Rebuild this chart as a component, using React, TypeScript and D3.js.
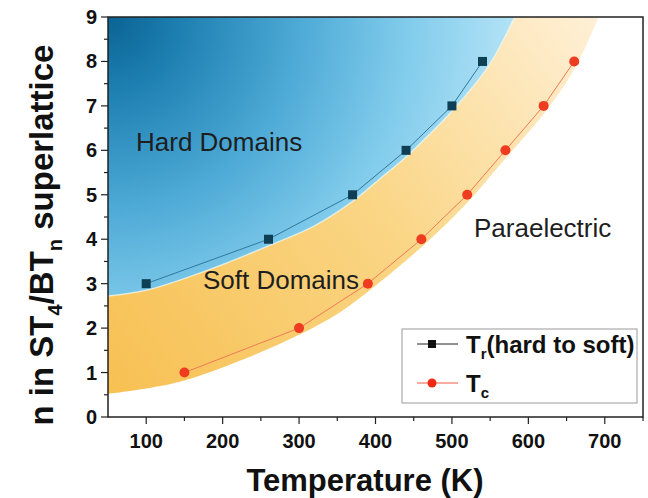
import React, { useEffect, useRef } from "react";
import * as d3 from "d3";

// transition points
const hardToSoftT = [100, 260, 370, 440, 500, 540];
const hardToSoftN = [3, 4, 5, 6, 7, 8];
const curieT = [150, 300, 390, 460, 520, 570, 620, 660];
const curieN = [1, 2, 3, 4, 5, 6, 7, 8];

// edges of the shaded phase regions
const blueEdgeT = [50, 100, 180, 260, 320, 370, 405, 440, 470, 500, 548, 582];
const blueEdgeN = [2.72, 2.85, 3.3, 3.85, 4.3, 4.85, 5.35, 5.85, 6.35, 6.88, 7.9, 9];
const orangeEdgeT = [50, 100, 150, 225, 300, 350, 390, 460, 520, 570, 620, 660, 692];
const orangeEdgeN = [0.52, 0.64, 0.82, 1.28, 1.85, 2.32, 2.82, 3.82, 4.82, 5.82, 6.82, 7.82, 9];

const xTicks = [100, 200, 300, 400, 500, 600, 700];
const xMinor = [150, 250, 350, 450, 550, 650, 750];
const yTicks = [0, 1, 2, 3, 4, 5, 6, 7, 8, 9];
const yMinor = [0.5, 1.5, 2.5, 3.5, 4.5, 5.5, 6.5, 7.5, 8.5];

const FONT = "'Liberation Sans', Arial, sans-serif";

const App = () => {
  const ref = useRef<SVGSVGElement>(null);

  useEffect(() => {
    const svg = d3.select(ref.current);
    svg.selectAll("*").remove();

    const left = 108, right = 643, top = 17, bottom = 417;
    const x = d3.scaleLinear().domain([50, 750]).range([left, right]);
    const y = d3.scaleLinear().domain([0, 9]).range([bottom, top]);

    const defs = svg.append("defs");
    defs.append("clipPath").attr("id", "plotClip")
      .append("rect").attr("x", left).attr("y", top).attr("width", right - left).attr("height", bottom - top);

    const blueGrad = defs.append("radialGradient").attr("id", "blueGrad")
      .attr("gradientUnits", "userSpaceOnUse").attr("cx", left).attr("cy", top).attr("r", 480);
    [[0, "#0a6393"], [0.15, "#1d7fb1"], [0.4, "#4eaad6"], [0.62, "#80cbeb"], [0.82, "#ade0f5"], [1, "#d3f1fb"]]
      .forEach(([o, c]) => blueGrad.append("stop").attr("offset", o).attr("stop-color", c));

    const orangeGrad = defs.append("linearGradient").attr("id", "orangeGrad")
      .attr("gradientUnits", "userSpaceOnUse")
      .attr("x1", left).attr("y1", bottom).attr("x2", 640).attr("y2", top);
    [[0, "#f7bf50"], [0.5, "#fad584"], [1, "#fff3e0"]]
      .forEach(([o, c]) => orangeGrad.append("stop").attr("offset", o).attr("stop-color", c));

    const edge = d3.line<number[]>().x((d) => x(d[0])).y((d) => y(d[1])).curve(d3.curveCatmullRom);
    const bluePts = blueEdgeT.map((t, i) => [t, blueEdgeN[i]]);
    const orangePts = orangeEdgeT.map((t, i) => [t, orangeEdgeN[i]]);

    const plot = svg.append("g").attr("clip-path", "url(#plotClip)");

    plot.append("path")
      .attr("d", `M${x(50)},${y(9)}L` + edge(bluePts.slice().reverse())!.slice(1) + "Z")
      .attr("fill", "url(#blueGrad)");

    plot.append("path")
      .attr("d", edge(bluePts)! + "L" + edge(orangePts.slice().reverse())!.slice(1) + "Z")
      .attr("fill", "url(#orangeGrad)");

    plot.append("path").attr("d", edge(bluePts)!)
      .attr("fill", "none").attr("stroke", "#eef6ee").attr("stroke-width", 1.5).attr("opacity", 0.7);

    // series lines and markers
    const trPts = hardToSoftT.map((t, i) => [t, hardToSoftN[i]]);
    const tcPts = curieT.map((t, i) => [t, curieN[i]]);
    const straight = d3.line<number[]>().x((d) => x(d[0])).y((d) => y(d[1]));

    plot.append("path").attr("d", straight(trPts)!).attr("fill", "none")
      .attr("stroke", "#2f79a0").attr("stroke-width", 1);
    plot.append("path").attr("d", straight(tcPts)!).attr("fill", "none")
      .attr("stroke", "#f07a58").attr("stroke-width", 1);

    plot.selectAll("rect.tr").data(trPts).enter().append("rect")
      .attr("x", (d) => x(d[0]) - 4.5).attr("y", (d) => y(d[1]) - 4.5)
      .attr("width", 9).attr("height", 9).attr("fill", "#0f3f55");
    plot.selectAll("circle.tc").data(tcPts).enter().append("circle")
      .attr("cx", (d) => x(d[0])).attr("cy", (d) => y(d[1])).attr("r", 5)
      .attr("fill", "#ef3b1f");

    // region labels
    const label = (tx: string, px: number, py: number) =>
      svg.append("text").attr("x", px).attr("y", py).attr("font-family", FONT)
        .attr("font-size", 26).attr("fill", "#1e1e1e").text(tx);
    label("Hard Domains", 136, 151);
    label("Soft Domains", 203, 289);
    label("Paraelectric", 474, 237);

    // frame and ticks
    svg.append("rect").attr("x", left).attr("y", top).attr("width", right - left).attr("height", bottom - top)
      .attr("fill", "none").attr("stroke", "#222").attr("stroke-width", 1.5);

    const axes = svg.append("g").attr("stroke", "#222").attr("stroke-width", 1.2);
    xTicks.forEach((t) => axes.append("line").attr("x1", x(t)).attr("x2", x(t)).attr("y1", bottom).attr("y2", bottom + 7));
    xMinor.forEach((t) => axes.append("line").attr("x1", x(t)).attr("x2", x(t)).attr("y1", bottom).attr("y2", bottom + 4));
    yTicks.forEach((t) => axes.append("line").attr("x1", left).attr("x2", left - 7).attr("y1", y(t)).attr("y2", y(t)));
    yMinor.forEach((t) => axes.append("line").attr("x1", left).attr("x2", left - 4).attr("y1", y(t)).attr("y2", y(t)));

    svg.selectAll("text.xt").data(xTicks).enter().append("text")
      .attr("x", (d) => x(d)).attr("y", bottom + 31).attr("text-anchor", "middle")
      .attr("font-family", FONT).attr("font-weight", "bold").attr("font-size", 20).attr("fill", "#111")
      .text((d) => d);
    svg.selectAll("text.yt").data(yTicks).enter().append("text")
      .attr("x", left - 11).attr("y", (d) => y(d) + 7).attr("text-anchor", "end")
      .attr("font-family", FONT).attr("font-weight", "bold").attr("font-size", 20).attr("fill", "#111")
      .text((d) => d);

    // axis titles
    svg.append("text").attr("x", 365).attr("y", 491).attr("text-anchor", "middle")
      .attr("font-family", FONT).attr("font-weight", "bold").attr("font-size", 31).attr("fill", "#111")
      .text("Temperature (K)");

    const yt = svg.append("text").attr("transform", "translate(53,235) rotate(-90)")
      .attr("text-anchor", "middle").attr("font-family", FONT).attr("font-weight", "bold")
      .attr("font-size", 33).attr("fill", "#111");
    yt.append("tspan").text("n in ST");
    yt.append("tspan").attr("font-size", 20).attr("dy", 9).text("4");
    yt.append("tspan").attr("dy", -9).text("/BT");
    yt.append("tspan").attr("font-size", 20).attr("dy", 9).text("n");
    yt.append("tspan").attr("dy", -9).text("\u00a0superlattice");

    // legend
    const lg = svg.append("g");
    lg.append("rect").attr("x", 402).attr("y", 329).attr("width", 235).attr("height", 74)
      .attr("fill", "#fff").attr("stroke", "#9a9a9a").attr("stroke-width", 1);
    lg.append("line").attr("x1", 417).attr("x2", 458).attr("y1", 344).attr("y2", 344)
      .attr("stroke", "#222").attr("stroke-width", 1);
    lg.append("rect").attr("x", 428).attr("y", 340).attr("width", 8).attr("height", 8).attr("fill", "#111");
    lg.append("line").attr("x1", 417).attr("x2", 458).attr("y1", 383).attr("y2", 383)
      .attr("stroke", "#f05a40").attr("stroke-width", 1);
    lg.append("circle").attr("cx", 432).attr("cy", 383).attr("r", 4.5).attr("fill", "#ee2a14");

    const t1 = lg.append("text").attr("x", 466).attr("y", 353).attr("font-family", FONT)
      .attr("font-weight", "bold").attr("font-size", 24).attr("fill", "#111");
    t1.append("tspan").text("T");
    t1.append("tspan").attr("font-size", 15).attr("dy", 6).text("r");
    t1.append("tspan").attr("dy", -6).text("(hard to soft)");

    const t2 = lg.append("text").attr("x", 466).attr("y", 392).attr("font-family", FONT)
      .attr("font-weight", "bold").attr("font-size", 24).attr("fill", "#111");
    t2.append("tspan").text("T");
    t2.append("tspan").attr("font-size", 15).attr("dy", 6).text("c");
  }, []);

  return (
    <svg ref={ref} width={648} height={498}
      style={{ position: "absolute", left: 0, top: 0, background: "#fff" }} />
  );
};

export default App;
